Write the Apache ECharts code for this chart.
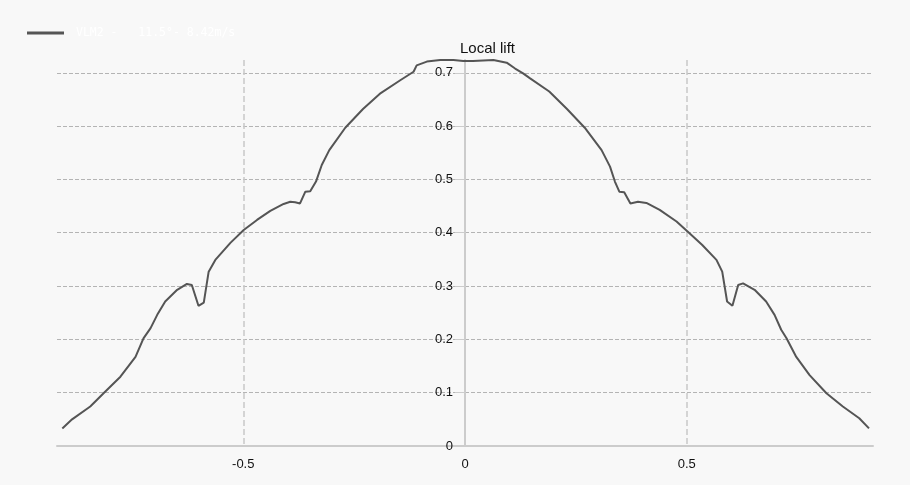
<!DOCTYPE html>
<html>
<head>
<meta charset="utf-8">
<script src="https://cdn.jsdelivr.net/npm/echarts@6/dist/echarts.min.js"></script>
<style>
html,body{margin:0;padding:0;background:#f8f8f8;}
#chart{width:910px;height:485px;}
</style>
</head>
<body>
<div id="chart"></div>
<script>
var seriesName = 'VLM2 -   11.5°- 8.42m/s';
var yAxisName = 'Local lift';
var spanPos = [-0.908,-0.886,-0.845,-0.815,-0.777,-0.743,-0.725,-0.709,-0.694,-0.676,-0.649,-0.627,-0.616,-0.601,-0.589,-0.578,-0.563,-0.529,-0.499,-0.469,-0.439,-0.409,-0.394,-0.383,-0.372,-0.360,-0.349,-0.336,-0.323,-0.306,-0.270,-0.230,-0.190,-0.146,-0.116,-0.109,-0.086,-0.056,-0.026,-0.004,0.018,0.064,0.094,0.113,0.131,0.146,0.190,0.230,0.270,0.308,0.327,0.338,0.348,0.359,0.373,0.390,0.409,0.439,0.477,0.505,0.535,0.567,0.580,0.591,0.603,0.616,0.627,0.653,0.679,0.698,0.713,0.725,0.747,0.777,0.815,0.852,0.889,0.911];
var localLift = [0.033,0.050,0.074,0.099,0.130,0.167,0.202,0.221,0.246,0.271,0.293,0.304,0.302,0.263,0.269,0.327,0.349,0.381,0.405,0.424,0.441,0.454,0.458,0.457,0.455,0.477,0.478,0.496,0.527,0.555,0.597,0.632,0.662,0.686,0.702,0.714,0.721,0.724,0.724,0.722,0.722,0.724,0.719,0.708,0.699,0.690,0.665,0.632,0.597,0.555,0.524,0.496,0.477,0.476,0.455,0.458,0.456,0.443,0.421,0.400,0.377,0.349,0.327,0.271,0.263,0.302,0.305,0.293,0.271,0.246,0.218,0.202,0.167,0.133,0.099,0.074,0.052,0.033];
var xMin = -0.92, xMax = 0.92;

var data = spanPos.map(function (x, i) { return [x, localLift[i]]; });

var gridLeft = 57, gridRight = 37, chartWidth = 910;
// place y axis at x = 0 of the x scale
var zeroOffset = -((0 - xMin) / (xMax - xMin)) * (chartWidth - gridLeft - gridRight);

var chart = echarts.init(document.getElementById('chart'));
chart.setOption({
  backgroundColor: '#f8f8f8',
  animation: false,
  legend: {
    left: 22, top: 22,
    itemWidth: 37, itemHeight: 3,
    textStyle: { color: '#ffffff', fontFamily: 'DejaVu Sans Mono', fontSize: 11.5, padding: [0,0,0,7] },
    data: [{ name: seriesName, icon: 'rect' }]
  },
  grid: { left: gridLeft, right: gridRight, top: 60, bottom: 39, containLabel: false },
  xAxis: {
    type: 'value', min: xMin, max: xMax, splitNumber: 4,
    axisLine: { lineStyle: { color: '#cccccc', width: 2 } },
    axisTick: { show: false },
    axisLabel: { color: '#111', fontSize: 13, margin: 12, showMinLabel: false, showMaxLabel: false,
      fontFamily: 'Liberation Sans, Arial, sans-serif' },
    splitLine: { show: true, showMinLine: false, showMaxLine: false, lineStyle: { color: '#c8c8c8', type: 'dashed', width: 1.5 } }
  },
  yAxis: {
    type: 'value', min: 0, max: 'dataMax', position: 'left', offset: zeroOffset,
    name: yAxisName, nameLocation: 'end', nameGap: 4,
    nameTextStyle: { color: '#111', fontSize: 15, align: 'left', padding: [0,0,0,-5], fontFamily: 'Liberation Sans, Arial, sans-serif' },
    axisLine: { show: true, onZero: false, lineStyle: { color: '#cccccc', width: 2 } },
    axisTick: { show: true, length: 10, lineStyle: { color: '#cccccc' } },
    axisLabel: { color: '#111', fontSize: 13, margin: 12, showMaxLabel: false,
      fontFamily: 'Liberation Sans, Arial, sans-serif' },
    splitLine: { show: true, showMaxLine: false, lineStyle: { color: '#b4b4b4', type: 'dashed', width: 1 } }
  },
  series: [{
    name: seriesName,
    type: 'line',
    data: data,
    symbol: 'none',
    lineStyle: { color: '#555555', width: 2 },
    itemStyle: { color: '#555555' }
  }]
});
</script>
</body>
</html>
